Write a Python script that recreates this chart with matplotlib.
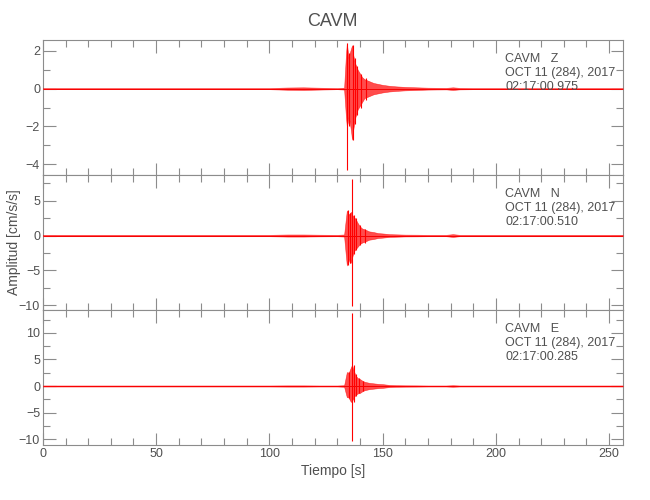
import matplotlib.pyplot as plt
from matplotlib.ticker import MultipleLocator

plt.rcParams['font.family'] = ['Liberation Sans', 'DejaVu Sans']

station = "CAVM"
components = ["Z", "N", "E"]
dates = ["OCT 11 (284), 2017", "OCT 11 (284), 2017", "OCT 11 (284), 2017"]
start_times = ["02:17:00.975", "02:17:00.510", "02:17:00.285"]

# envelope of each trace (time in s, amplitude in cm/s/s)
t_env = [0, 100, 108, 115, 122, 130, 133.0, 133.8, 134.2, 134.6, 135.0, 135.5,
         136.0, 136.5, 137.0, 137.5, 138.0, 139.0, 140.0, 141.0, 142.0, 144.0,
         146.0, 148.0, 150.0, 153.0, 156.0, 160.0, 165.0, 170.0, 178.0, 181.0,
         184.0, 190.0, 256.0]

z_upper = [0.03, 0.03, 0.06, 0.07, 0.05, 0.03, 0.05, 1.8, 2.4, 2.0, 1.6, 1.9,
           2.1, 2.3, 1.8, 1.5, 1.3, 1.0, 0.8, 0.6, 0.5, 0.4, 0.3, 0.25, 0.2,
           0.15, 0.12, 0.09, 0.07, 0.05, 0.04, 0.07, 0.04, 0.03, 0.03]
z_lower = [-0.03, -0.03, -0.06, -0.07, -0.05, -0.03, -0.05, -1.5, -2.0, -1.8,
           -1.5, -1.8, -2.2, -2.7, -2.2, -1.8, -1.5, -1.1, -0.9, -0.7, -0.5,
           -0.4, -0.3, -0.25, -0.2, -0.15, -0.12, -0.09, -0.07, -0.05, -0.04,
           -0.07, -0.04, -0.03, -0.03]

n_upper = [0.1, 0.1, 0.15, 0.15, 0.12, 0.1, 0.15, 2.5, 3.6, 3.3, 3.0, 3.2,
           3.4, 3.0, 2.8, 2.6, 2.4, 1.8, 1.3, 1.0, 0.9, 0.6, 0.5, 0.35, 0.3,
           0.2, 0.17, 0.13, 0.12, 0.1, 0.1, 0.2, 0.1, 0.1, 0.1]
n_lower = [-0.1, -0.1, -0.15, -0.15, -0.12, -0.1, -0.15, -3.0, -4.3, -3.6,
           -3.4, -3.9, -3.9, -3.2, -2.6, -2.2, -2.0, -1.6, -1.2, -1.0, -0.9,
           -0.6, -0.5, -0.35, -0.3, -0.2, -0.17, -0.13, -0.12, -0.1, -0.1,
           -0.2, -0.1, -0.1, -0.1]

e_upper = [0.1, 0.1, 0.12, 0.12, 0.1, 0.1, 0.15, 1.8, 2.6, 2.6, 2.4, 3.0,
           3.5, 4.0, 3.2, 2.6, 2.0, 1.5, 1.3, 1.0, 0.8, 0.6, 0.5, 0.4, 0.35,
           0.2, 0.15, 0.13, 0.12, 0.1, 0.1, 0.15, 0.1, 0.1, 0.1]
e_lower = [-0.1, -0.1, -0.12, -0.12, -0.1, -0.1, -0.15, -1.5, -2.1, -2.1,
           -2.2, -2.6, -3.0, -2.8, -2.4, -2.0, -1.7, -1.4, -1.3, -1.0, -0.8,
           -0.6, -0.5, -0.4, -0.35, -0.2, -0.15, -0.13, -0.12, -0.1, -0.1,
           -0.15, -0.1, -0.1, -0.1]

# largest single swings (time, min, max)
z_spikes = [(134.1, 0.0, 2.4), (134.4, -4.3, 0.0), (136.8, -2.7, 2.3),
            (135.3, -2.0, 1.9), (137.6, -1.9, 1.6), (138.6, -1.4, 1.2),
            (140.3, -1.0, 0.8), (142.5, -0.6, 0.55)]
n_spikes = [(136.5, -10.1, 8.1), (134.6, -4.3, 3.6), (135.4, -3.9, 3.2),
            (137.3, -2.6, 3.0), (138.4, -2.1, 2.5), (139.8, -1.3, 1.5),
            (142.0, -1.0, 0.9)]
e_spikes = [(136.4, -10.4, 13.7), (137.2, -3.0, 4.0), (135.0, -2.2, 2.6),
            (138.3, -1.8, 2.2), (139.6, -1.4, 1.5), (141.5, -1.0, 1.0)]

ylims = [(-4.58, 2.58), (-10.7, 8.7), (-11.1, 14.3)]
ymajor = [2, 5, 5]
yminor = [1, 2.5, 2.5]

uppers = [z_upper, n_upper, e_upper]
lowers = [z_lower, n_lower, e_lower]
spikes = [z_spikes, n_spikes, e_spikes]

grey = "#8c8c8c"
txt = "#505050"

fig = plt.figure(figsize=(6.5, 5), dpi=100)
left, right, top, bottom = 0.066, 0.958, 0.92, 0.11
h = (top - bottom) / 3
axes = []
for i in range(3):
    ax = fig.add_axes([left, top - (i + 1) * h, right - left, h])
    axes.append(ax)
    ax.axhline(0, color="#202020", lw=0.6, zorder=1)
    ax.plot([t_env[0], t_env[-1]], [0, 0], color="red", lw=0.6, zorder=2)
    ax.fill_between(t_env, lowers[i], uppers[i], color="red", alpha=0.7,
                    lw=0.4, zorder=3)
    for t, lo, hi in spikes[i]:
        ax.vlines(t, lo, hi, color="red", lw=0.8, zorder=4)
    ax.set_xlim(0, 256)
    ax.set_ylim(*ylims[i])
    ax.xaxis.set_major_locator(MultipleLocator(50))
    ax.xaxis.set_minor_locator(MultipleLocator(10))
    ax.yaxis.set_major_locator(MultipleLocator(ymajor[i]))
    ax.yaxis.set_minor_locator(MultipleLocator(yminor[i]))
    ax.tick_params(which="both", direction="in", top=True, right=True,
                   color=grey, labelcolor=txt, labelsize=9, width=0.8)
    ax.tick_params(which="major", length=9, pad=2)
    ax.tick_params(which="minor", length=5)
    for s in ax.spines.values():
        s.set_color(grey)
        s.set_linewidth(0.8)
    if i < 2:
        ax.tick_params(labelbottom=False)
    ax.text(0.797, 0.86, f"{station}   {components[i]}", transform=ax.transAxes,
            fontsize=9, color=txt, va="center")
    ax.text(0.797, 0.755, dates[i], transform=ax.transAxes,
            fontsize=9, color=txt, va="center")
    ax.text(0.797, 0.65, start_times[i], transform=ax.transAxes,
            fontsize=9, color=txt, va="center")

axes[0].set_title(station, fontsize=13, color=txt, pad=10)
axes[2].set_xlabel("Tiempo [s]", fontsize=10, color=txt, labelpad=3)
fig.text(0.022, 0.515, "Amplitud [cm/s/s]", rotation=90, fontsize=10,
         color=txt, ha="center", va="center")

plt.savefig("out.png", dpi=100)
